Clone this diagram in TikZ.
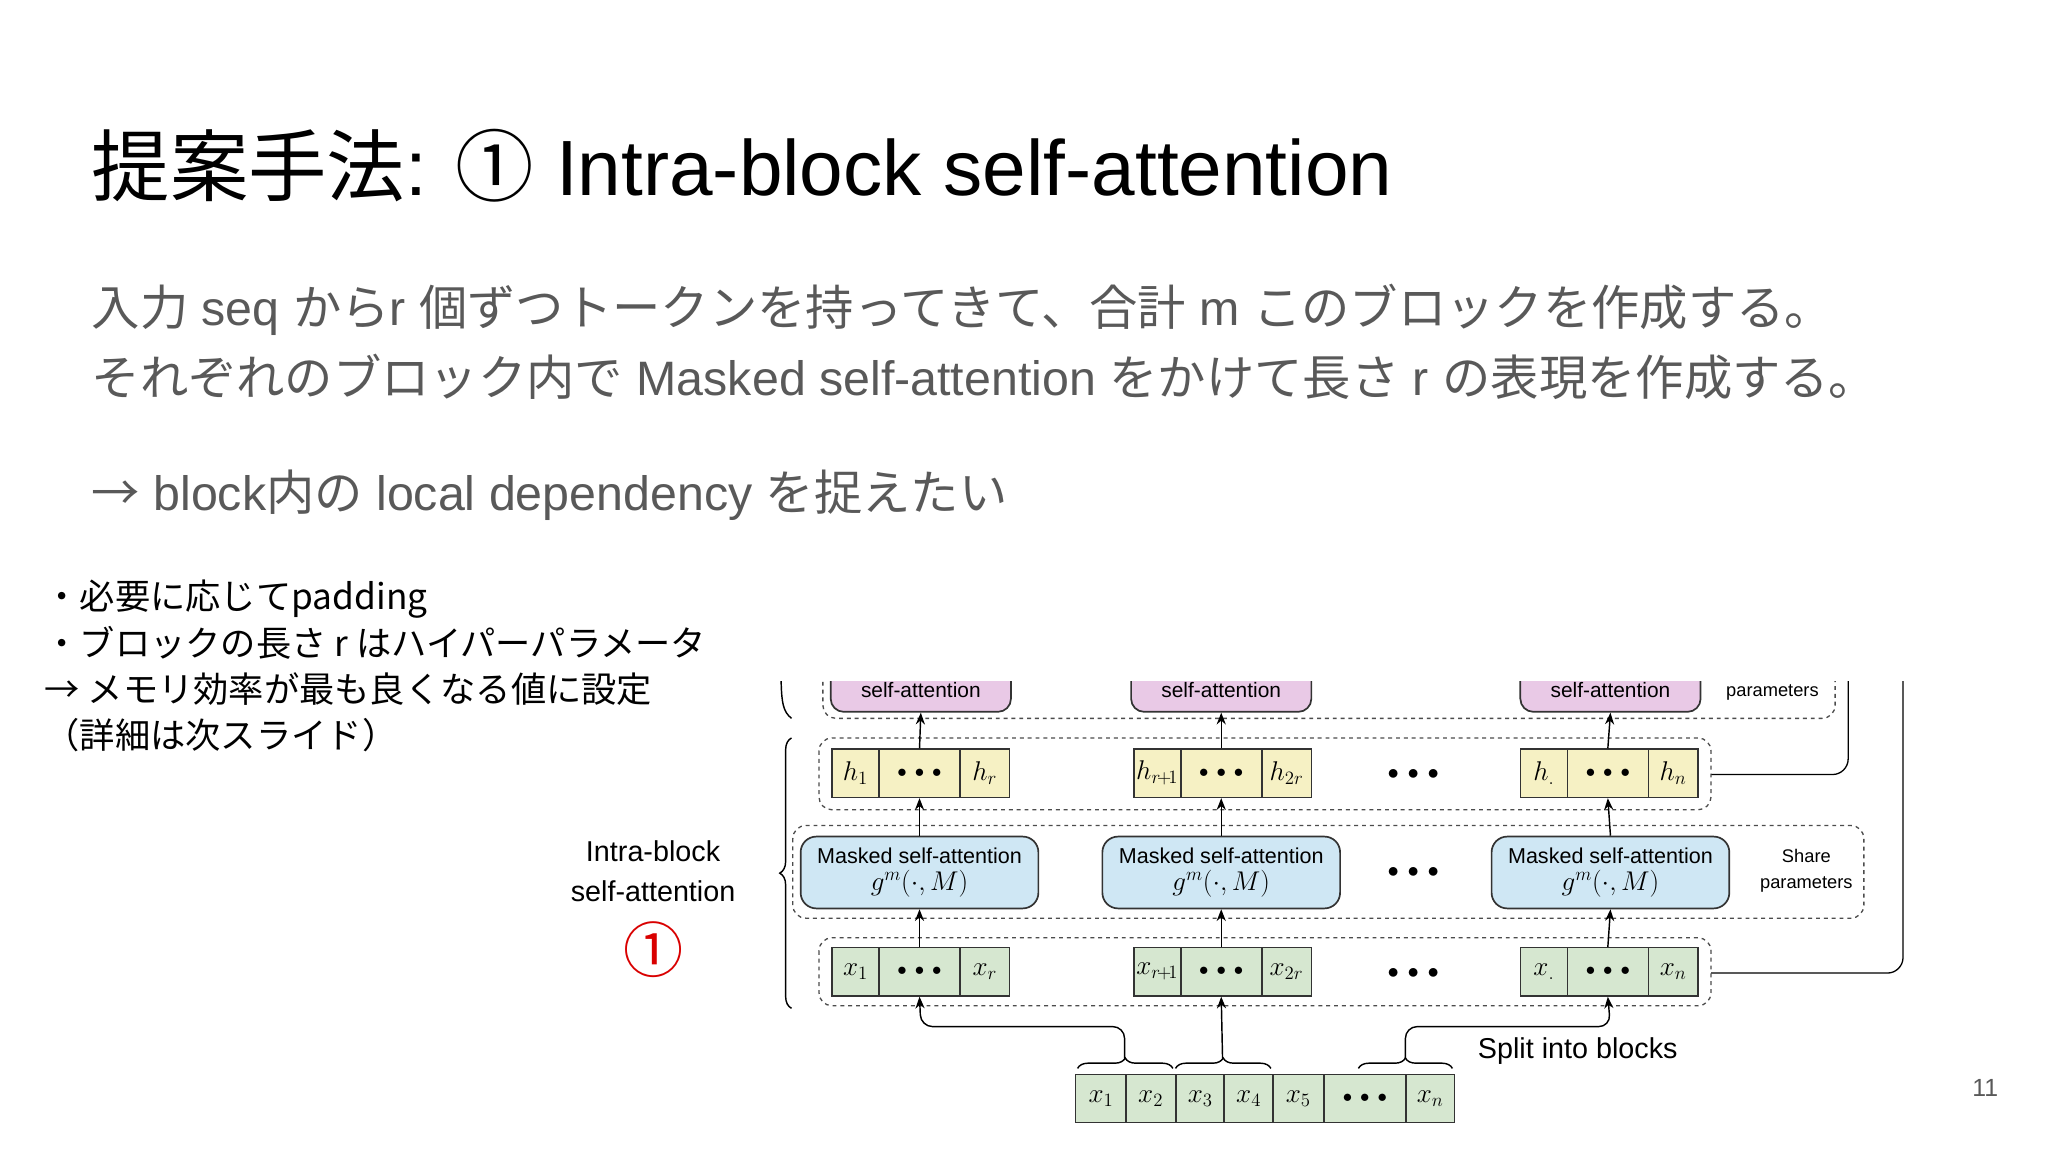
\documentclass[tikz,border=0pt]{standalone}
\usepackage{fontspec}
\usepackage{amsmath}
\setmainfont{Liberation Sans}
\newfontfamily\jpf{Noto Sans CJK JP}
\newcommand\jp[1]{{\jpf #1}}
\usetikzlibrary{decorations.pathreplacing,arrows.meta}
\definecolor{txtgray}{HTML}{595959}
\definecolor{cyel}{HTML}{F6F1C4}
\definecolor{cgrn}{HTML}{D6E7D0}
\definecolor{cblu}{HTML}{CFE7F4}
\definecolor{cpink}{HTML}{E9C9E6}
\tikzset{
 cell/.style={draw=black!80,line width=1.2pt,minimum height=37pt,inner sep=0pt,font=\fontsize{22}{22}\selectfont},
 dbox/.style={draw=black!70,dashed,line width=1pt,rounded corners=10pt},
 msa/.style={draw=black!80,fill=cblu,line width=1.3pt,rounded corners=12pt,minimum width=182pt,minimum height=55pt,align=center,inner sep=0pt,font=\fontsize{16.5}{21}\selectfont},
 arr/.style={-{Stealth[length=9pt,width=7pt]},line width=1.1pt},
 small/.style={font=\fontsize{14}{20}\selectfont,align=center},
 dots/.style={font=\fontsize{24}{24}\selectfont},
}
\newcommand\cdt{$\scriptstyle\bullet\ \bullet\ \bullet$}
\newcommand\gm{{\fontsize{21}{21}\selectfont$g^m(\cdot,M)$}}
\newcommand\blockrow[6]{%
 \node[cell,fill=#4,minimum width=36pt] (#1a) at (#2+18,#3) {$#5$};
 \node[cell,fill=#4,minimum width=62pt] (#1b) at (#2+67,#3) {\cdt};
 \node[cell,fill=#4,minimum width=38pt] (#1c) at (#2+117,#3) {$#6$};}
\begin{document}
\begin{tikzpicture}[x=1pt,y=-1pt]
\useasboundingbox[fill=white] (0,0) rectangle (1568,882);
% texts
\node[anchor=base west,inner sep=0] (title) at (70,150) {\fontsize{60}{62}\selectfont\jp{提案手法}: \jp{①} Intra-block self-attention};
\node[anchor=base west,inner sep=0,text=txtgray] (l1) at (70,249) {\fontsize{37}{38}\selectfont\jp{入力} seq \jp{から}r \jp{個ずつトークンを持ってきて、合計} m \jp{このブロックを作成する。}};
\node[anchor=base west,inner sep=0,text=txtgray] (l2) at (70,303) {\fontsize{37}{38}\selectfont\jp{それぞれのブロック内で} Masked self-attention \jp{をかけて長さ} r \jp{の表現を作成する。}};
\node[anchor=base west,inner sep=0,text=txtgray] (l3) at (70,391) {\fontsize{37}{38}\selectfont\jp{→} block\jp{内の} local dependency \jp{を捉えたい}};
\node[anchor=north west,inner sep=0,align=left,font={\fontsize{27}{35.5}\selectfont\jpf}] (notes) at (34,444) {・必要に応じてpadding\\ ・ブロックの長さ r はハイパーパラメータ\\ → メモリ効率が最も良くなる値に設定\\ （詳細は次スライド）};
\node[text=txtgray,font=\fontsize{19}{19}\selectfont] (pg) at (1520,833) {11};
% diagram
\begin{scope}
\clip (420,522) rectangle (1480,872);
\draw[dbox] (630,500) rectangle (1405,550);
\foreach \n/\x in {p1/705,p2/935,p3/1233}
  \node[draw=black!80,fill=cpink,line width=1.3pt,rounded corners=10pt,minimum width=138pt,minimum height=40pt,font=\fontsize{16}{16}\selectfont,text depth=0pt] (\n) at (\x,525) {\raisebox{-6pt}{self-attention}};
\node[dots] (dtop) at (1082,512) {\cdt};
\node[small] (par) at (1357,530) {parameters};
\draw[line width=1.1pt] (598,515) .. controls (598,540) and (600,545) .. (606,550);
\draw[line width=1pt,rounded corners=12pt] (1310,593) -- (1415,593) -- (1415,500);
\draw[line width=1pt,rounded corners=12pt] (1310,745) -- (1457,745) -- (1457,500);
\end{scope}
% h row
\draw[dbox] (627,565) rectangle (1310,620);
\blockrow{h1}{637}{592}{cyel}{h_1}{h_r}
\blockrow{h2}{868}{592}{cyel}{h_{r\!+\!1}}{h_{2r}}
\blockrow{h3}{1164}{592}{cyel}{h_{.}}{h_n}
\node[dots] (dh) at (1082,593) {\cdt};
% masked row
\draw[dbox] (607,632) rectangle (1427,703);
\node[msa] (m1) at (704,668) {Masked self-attention\\ \gm};
\node[msa] (m2) at (935,668) {Masked self-attention\\ \gm};
\node[msa] (m3) at (1233,668) {Masked self-attention\\ \gm};
\node[dots] (dm) at (1082,668) {\cdt};
\node[small] (share) at (1383,667) {Share\\ parameters};
% x row
\draw[dbox] (627,718) rectangle (1310,770);
\blockrow{x1}{637}{744}{cgrn}{x_1}{x_r}
\blockrow{x2}{868}{744}{cgrn}{x_{r\!+\!1}}{x_{2r}}
\blockrow{x3}{1164}{744}{cgrn}{x_{.}}{x_n}
\node[dots] (dx) at (1082,745) {\cdt};
% left brace & label
\draw[decorate,decoration={brace,amplitude=9pt},line width=1.1pt] (606,772) -- (606,565);
\node[font=\fontsize{22}{30}\selectfont,align=center] (ib) at (500,667) {Intra-block\\ self-attention};
\node[text=red!85!black,font=\fontsize{46}{46}\selectfont] (c1) at (500,727) {\jp{①}};
% bottom sequence
\node[cell,fill=cgrn,minimum width=39pt] (s1) at (843,841) {$x_1$};
\node[cell,fill=cgrn,minimum width=38pt] (s2) at (881,841) {$x_2$};
\node[cell,fill=cgrn,minimum width=37pt] (s3) at (919,841) {$x_3$};
\node[cell,fill=cgrn,minimum width=38pt] (s4) at (956,841) {$x_4$};
\node[cell,fill=cgrn,minimum width=39pt] (s5) at (994,841) {$x_5$};
\node[cell,fill=cgrn,minimum width=62pt] (s6) at (1045,841) {\cdt};
\node[cell,fill=cgrn,minimum width=37pt] (s7) at (1095,841) {$x_n$};
\draw[decorate,decoration={brace,amplitude=8pt},line width=1.1pt] (825,818) -- (898,818);
\draw[decorate,decoration={brace,amplitude=8pt},line width=1.1pt] (900,818) -- (973,818);
\draw[decorate,decoration={brace,amplitude=8pt},line width=1.1pt] (1040,818) -- (1112,818);
\coordinate (t1) at (861,810);
\coordinate (t2) at (936,810);
\coordinate (t3) at (1076,810);
\node[anchor=west,font=\fontsize{22}{22}\selectfont] (split) at (1128,805) {Split into blocks};
\draw[arr,rounded corners=9pt] (t1) -- (861,786) -- (705,786) -- (x1b.south);
\draw[arr] (t2) -- (x2b.south);
\draw[arr,rounded corners=9pt] (t3) -- (1076,786) -- (1233,786) -- (x3b.south);
% vertical arrows
\foreach \i in {1,2,3}{
  \draw[arr] (x\i b.north) -- (m\i.south);
  \draw[arr] (m\i.north) -- (h\i b.south);
}
\begin{scope}
\clip (420,522) rectangle (1480,872);
\foreach \i in {1,2,3} \draw[arr] (h\i b.north) -- (p\i.south);
\end{scope}
\end{tikzpicture}
\end{document}
